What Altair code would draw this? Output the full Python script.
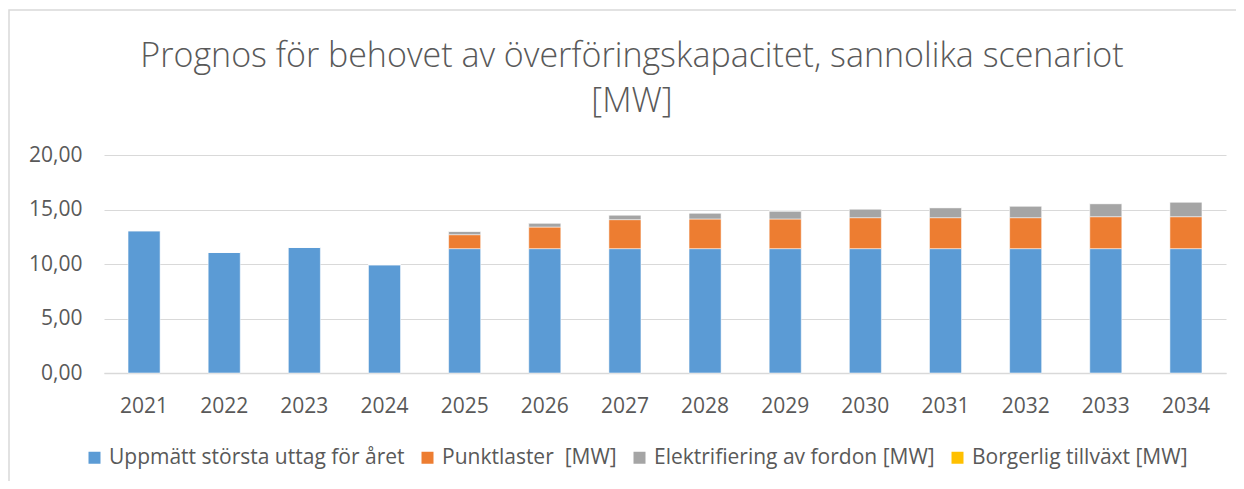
import altair as alt
import pandas as pd

years = [str(y) for y in range(2021, 2035)]
uppmatt = [13.06, 11.07, 11.53, 9.94, 11.41, 11.41, 11.41, 11.41, 11.41, 11.41, 11.41, 11.41, 11.41, 11.41]
punktlaster = [0, 0, 0, 0, 1.28, 1.98, 2.66, 2.72, 2.72, 2.84, 2.84, 2.84, 2.93, 2.93]
elektrifiering = [0, 0, 0, 0, 0.31, 0.37, 0.43, 0.55, 0.73, 0.80, 0.92, 1.07, 1.20, 1.35]
borgerlig = [0] * 14

series = [
    "Uppmätt största uttag för året",
    "Punktlaster\u00a0\u00a0[MW]",
    "Elektrifiering av fordon [MW]",
    "Borgerlig tillväxt [MW]",
]
colors = ["#5B9BD5", "#ED7D31", "#A5A5A5", "#FFC000"]
title_lines = ["Prognos för behovet av överföringskapacitet, sannolika scenariot", "[MW]"]

rows = []
for i, vals in enumerate([uppmatt, punktlaster, elektrifiering, borgerlig]):
    for y, v in zip(years, vals):
        rows.append({"År": y, "Serie": series[i], "Värde": v, "ordning": i})
df = pd.DataFrame(rows)

FONT = "Open Sans"
GREY = "#595959"

bars = alt.Chart(df).mark_bar(stroke="white", strokeWidth=0.75, strokeOpacity=0.7).encode(
    x=alt.X(
        "År:N",
        sort=years,
        scale=alt.Scale(paddingInner=0.6, paddingOuter=0.3),
        axis=alt.Axis(
            title=None, labelAngle=0, labelFontSize=21, labelFont=FONT, labelColor=GREY,
            labelPadding=22, ticks=False, grid=False, domainColor="#D9D9D9", domainWidth=1.5,
        ),
    ),
    y=alt.Y(
        "Värde:Q",
        stack="zero",
        scale=alt.Scale(domain=[0, 20]),
        axis=alt.Axis(
            title=None, values=[0, 5, 10, 15, 20],
            labelExpr="replace(format(datum.value, '.2f'), '.', ',')",
            labelFontSize=21, labelFont=FONT, labelColor=GREY, labelPadding=22,
            domain=False, ticks=False, gridColor="#D9D9D9", gridWidth=1.2,
        ),
    ),
    color=alt.Color(
        "Serie:N",
        scale=alt.Scale(domain=series, range=colors),
        legend=alt.Legend(
            title=None, orient="none", legendX=-20, legendY=292, direction="horizontal",
            columns=4, symbolType="square", symbolSize=144, symbolStrokeWidth=0,
            labelFontSize=21, labelFont=FONT, labelColor=GREY, labelOffset=4,
            columnPadding=12, labelLimit=0,
        ),
    ),
    order=alt.Order("ordning:Q"),
)

border = alt.Chart(pd.DataFrame({"a": [0]})).mark_rect(
    fill=None, stroke="#D9D9D9", strokeWidth=1.5
).encode(
    x=alt.value(-95), x2=alt.value(1300), y=alt.value(-145), y2=alt.value(600)
)

chart = alt.layer(border, bars).properties(
    width=1122,
    height=218,
    autosize=alt.AutoSizeParams(type="none"),
    padding={"left": 96, "top": 147, "right": 10, "bottom": 108},
    title=alt.TitleParams(
        text=title_lines, anchor="middle", frame="group", dx=-33, dy=140, offset=30,
        fontSize=34, font=FONT, fontWeight=300, color=GREY, lineHeight=45,
    ),
).configure_view(stroke=None)

chart.save("out.html", embed_options={"renderer": "svg", "actions": False})
